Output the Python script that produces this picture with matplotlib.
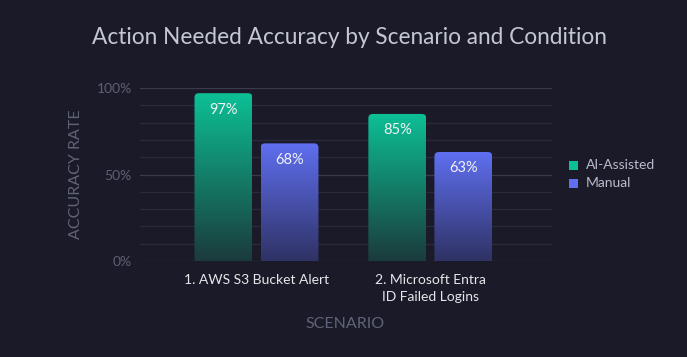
import numpy as np
import matplotlib
matplotlib.use("Agg")
import matplotlib.pyplot as plt
from matplotlib.patches import FancyBboxPatch, Rectangle
from matplotlib.colors import LinearSegmentedColormap

plt.rcParams['font.family'] = ['Lato', 'DejaVu Sans']

scenarios = ["1. AWS S3 Bucket Alert", "2. Microsoft Entra\nID Failed Logins"]
conditions = ["AI-Assisted", "Manual"]
ai_assisted = [97, 85]
manual = [68, 63]

BG = "#1b1a29"
top_colors = ["#0cc095", "#5f6ff0"]
bottom_colors = ["#1b3b3c", "#2f3264"]

fig = plt.figure(figsize=(6.87, 3.57), dpi=100, facecolor=BG)
ax = fig.add_axes([140 / 687, 1 - 261 / 357, 412 / 687, 173 / 357])
ax.set_facecolor(BG)

x = np.arange(len(scenarios))
width = 0.333
offsets = [-0.19, 0.19]

# grid lines every 10%
for v in range(0, 101, 10):
    c = "#3a3a4c" if v % 50 == 0 else "#2a2a3a"
    ax.axhline(v, color=c, lw=0.9, zorder=0)

gradient = np.linspace(0, 1, 256).reshape(-1, 1)
for i, vals in enumerate([ai_assisted, manual]):
    cmap = LinearSegmentedColormap.from_list("g%d" % i, [bottom_colors[i], top_colors[i]])
    for j, v in enumerate(vals):
        left = x[j] + offsets[i] - width / 2
        patch = FancyBboxPatch((left, -10), width, v + 10,
                               boxstyle="round,pad=0,rounding_size=0.025",
                               mutation_aspect=100, facecolor="none",
                               edgecolor="none")
        ax.add_patch(patch)
        im = ax.imshow(gradient, cmap=cmap, origin="lower", aspect="auto",
                       extent=(left, left + width, 0, v), zorder=2)
        im.set_clip_path(patch)
        ax.text(x[j] + offsets[i], v - 9.5, "%d%%" % v, ha="center", va="center",
                color="#f2f2f5", fontsize=10.5, zorder=3)

ax.set_xlim(-0.67, 1.7)
ax.set_ylim(0, 100)
ax.set_yticks([0, 50, 100])
ax.set_yticklabels(["0%", "50%", "100%"])
ax.set_xticks(x)
ax.set_xticklabels(scenarios, color="#e6e6ea", fontsize=10, linespacing=1.55)
ax.tick_params(axis="y", colors="#5d6074", labelsize=10, length=0, pad=6)
ax.tick_params(axis="x", length=0, pad=9)
for s in ax.spines.values():
    s.set_visible(False)

ax.set_ylabel("ACCURACY RATE", color="#5f6377", fontsize=11.5, labelpad=10)
fig.text(345 / 687, 1 - 324 / 357, "SCENARIO", color="#5f6377", fontsize=11.5,
         ha="center", va="center")
fig.text(349 / 687, 1 - 37 / 357, "Action Needed Accuracy by Scenario and Condition",
         color="#c3c8d4", fontsize=16.3, ha="center", va="center")

# legend
for k, lab in enumerate(conditions):
    yy = 1 - (165 + k * 18) / 357
    fig.patches.append(Rectangle((569 / 687, yy - 4.5 / 357), 9 / 687, 9 / 357,
                                 transform=fig.transFigure, facecolor=top_colors[k],
                                 edgecolor="none", figure=fig))
    fig.text(586 / 687, yy, lab, color="#b9bccb", fontsize=10, va="center")

fig.savefig("out.png", dpi=100, facecolor=BG)
